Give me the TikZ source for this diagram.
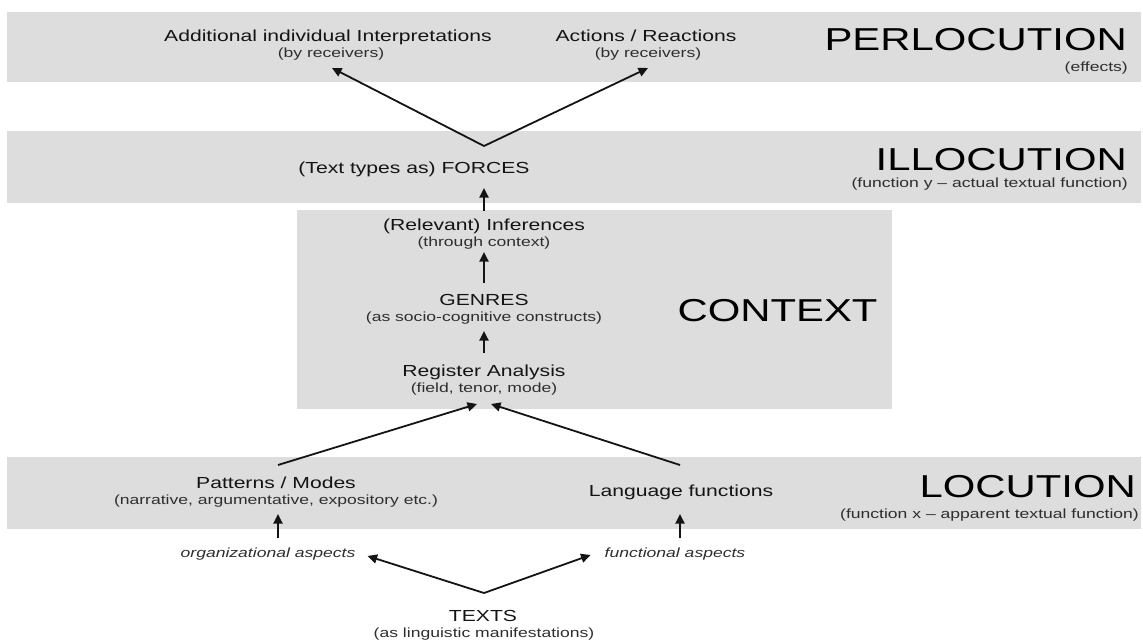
\documentclass[tikz,border=0pt]{standalone}
\usepackage{fontspec}
\setmainfont{Liberation Sans}[FakeStretch=1.32]
\usetikzlibrary{arrows.meta,calc}
\definecolor{bandgray}{HTML}{DDDDDD}
\definecolor{txtdark}{HTML}{141414}
\definecolor{txtgray}{HTML}{2E2E2E}
\tikzset{
  band/.style={fill=bandgray, draw=none},
  ttl/.style={inner sep=0pt, anchor=base, text=txtdark, font=\fontsize{16}{19}\selectfont},
  sub/.style={inner sep=0pt, anchor=base, text=txtgray, font=\fontsize{13.3}{16}\selectfont},
  big/.style={inner sep=0pt, anchor=base east, text=black, font=\fontsize{31.7}{36}\selectfont},
  subr/.style={inner sep=0pt, anchor=base east, text=txtgray, font=\fontsize{13.3}{16}\selectfont},
  asp/.style={inner sep=0pt, anchor=base, text=txtgray, font=\fontsize{13.3}{16}\selectfont\itshape},
  arr/.style={line width=1.8pt, draw=txtdark, -{Triangle[length=9.5pt,width=9pt]}},
}
\begin{document}
\begin{tikzpicture}[x=1pt,y=-1pt]
\useasboundingbox (0,0) rectangle (1143,640);
% bands
\fill[band] (7,12) rectangle (1141,82);
\fill[band] (7,131) rectangle (1141,203);
\fill[band] (297,210) rectangle (892,409);
\fill[band] (7,457) rectangle (1141,529);
% PERLOCUTION
\node[ttl] (interp) at (328,41) {Additional individual Interpretations};
\node[sub] (recv1) at (331,57.5) {(by receivers)};
\node[ttl] (actions) at (646,41) {Actions / Reactions};
\node[sub] (recv2) at (648,57.5) {(by receivers)};
\node[big] (perl) at (1127,50) {PERLOCUTION};
\node[subr] (effects) at (1128,71.5) {(effects)};
% ILLOCUTION
\node[ttl] (forces) at (414,173) {(Text types as) FORCES};
\node[big] (illo) at (1127,170) {ILLOCUTION};
\node[subr] (funcy) at (1128,187.5) {(function y -- actual textual function)};
% CONTEXT
\node[ttl] (infer) at (484,230) {(Relevant) Inferences};
\node[sub] (through) at (484,246.5) {(through context)};
\node[ttl] (genres) at (484,305) {GENRES};
\node[sub] (socio) at (484,321.5) {(as socio-cognitive constructs)};
\node[ttl] (register) at (484,376) {Register Analysis};
\node[sub] (field) at (484,392.5) {(field, tenor, mode)};
\node[big, anchor=base] (context) at (777.5,321) {CONTEXT};
% LOCUTION
\node[ttl] (patterns) at (276,488) {Patterns / Modes};
\node[sub] (narr) at (276,504.5) {(narrative, argumentative, expository etc.)};
\node[ttl] (langf) at (681,496) {Language functions};
\node[big] (locu) at (1136,497) {LOCUTION};
\node[subr] (funcx) at (1139,518.5) {(function x -- apparent textual function)};
% aspects and texts
\node[asp] (org) at (268,557.5) {organizational aspects};
\node[asp] (func) at (675,557) {functional aspects};
\node[ttl] (texts) at (483,621) {TEXTS};
\node[sub] (ling) at (484,637.5) {(as linguistic manifestations)};
% connectors
\coordinate (apexF) at (484,146);
\coordinate (apexT) at ($(texts.base)+(1,-28)$);
\draw[arr] (apexF) -- ($(recv1.base)+(1,10.5)$);
\draw[arr] (apexF) -- ($(recv2.base)+(0,10.5)$);
\draw[arr] ($(infer.base)+(0,-19)$) -- ($(infer.base |- forces.base)+(0,15)$);
\draw[arr] ($(genres.base)+(0,-22)$) -- ($(through.base)+(0,5.5)$);
\draw[arr] ($(register.base)+(0,-23)$) -- ($(socio.base)+(0,9.5)$);
\draw[arr] ($(patterns.base)+(2,-23)$) -- ($(field.base)+(-7,11.5)$);
\draw[arr] ($(langf.base)+(-1,-31)$) -- ($(field.base)+(7,11.5)$);
\draw[arr] ($(org.base)+(10,-19.5)$) -- ($(narr.base)+(2,9.5)$);
\draw[arr] ($(func.base)+(5,-19)$) -- ($(langf.base)+(-1,18)$);
\draw[arr] (apexT) -- ($(org.base east)+(12,-1.5)$);
\draw[arr] (apexT) -- ($(func.base west)+(-14,-2)$);
\end{tikzpicture}
\end{document}
